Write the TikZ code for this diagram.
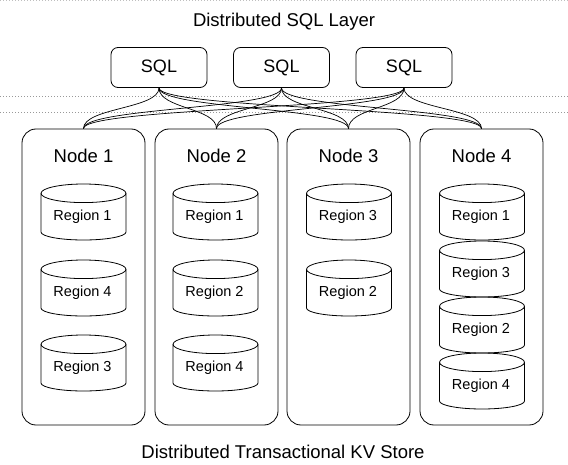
\documentclass[tikz,border=0pt]{standalone}
\usepackage{fontspec}
\setmainfont{Liberation Sans}
\tikzset{
  sqlbox/.style={draw, line width=0.8pt, rounded corners=7pt, minimum width=96pt, minimum height=40pt, inner sep=0pt, font=\fontsize{18}{20}\selectfont},
  nodebox/.style={draw, line width=0.8pt, rounded corners=14pt, minimum width=123pt, minimum height=296pt, inner sep=0pt},
  nodelabel/.style={font=\fontsize{18.5}{20}\selectfont, inner sep=0pt},
  titletext/.style={font=\fontsize{18.5}{20}\selectfont, inner sep=0pt},
  regtext/.style={font=\fontsize{14.5}{16}\selectfont, inner sep=0pt},
  cylline/.style={line width=0.8pt},
  link/.style={line width=0.7pt},
  layerline/.style={gray!80, line width=0.6pt, dash pattern=on 0.8pt off 2.2pt},
  toplayerline/.style={gray!50, line width=0.6pt, dash pattern=on 0.8pt off 2.2pt}
}
\newcommand\regcyl[4]{%
  \draw[cylline] (#2,#3-9.3) ellipse [x radius=42.5pt, y radius=9.3pt];
  \draw[cylline] (#2-42.5,#3-9.3) -- (#2-42.5,#3-48) arc[start angle=180, end angle=360, x radius=42.5pt, y radius=8pt] -- (#2+42.5,#3-9.3);
  \node[regtext] (#1) at (#2-1,#3-33) {#4};
}
\begin{document}
\begin{tikzpicture}[x=1pt, y=1pt]
\useasboundingbox (0,0) rectangle (568,464);
% layer lines
\coordinate (tl0) at (0,463.2);
\coordinate (tr0) at (568,463.2);
\draw[toplayerline] (tl0) -- (tr0);
\coordinate (tl1) at (0,368);
\coordinate (tr1) at (568,368);
\draw[layerline] (tl1) -- (tr1);
\coordinate (tl2) at (0,352);
\coordinate (tr2) at (568,352);
\draw[layerline] (tl2) -- (tr2);
% titles
\node[titletext] (t1) at (284,442) {Distributed SQL Layer};
\node[titletext] (t2) at (283,12) {Distributed Transactional KV Store};
% SQL boxes
\node[sqlbox] (s1) at (159,396.5) {SQL};
\node[sqlbox] (s2) at (281.5,396.5) {SQL};
\node[sqlbox] (s3) at (404,396.5) {SQL};
% node boxes
\node[nodebox] (n1) at (83.5,187) {};
\node[nodebox] (n2) at (216.5,187) {};
\node[nodebox] (n3) at (348.5,187) {};
\node[nodebox] (n4) at (481.5,187) {};
\node[nodelabel] (l1) at (83.5,308) {Node 1};
\node[nodelabel] (l2) at (216.5,308) {Node 2};
\node[nodelabel] (l3) at (348.5,308) {Node 3};
\node[nodelabel] (l4) at (481.5,308) {Node 4};
% links
\foreach \s in {1,2,3}{
  \foreach \n in {1,2,3,4}{
    \draw[link] (s\s.south) .. controls +(0,-21) and +(0,21) .. (n\n.north);
  }
}
% regions
\regcyl{r11}{83.5}{280}{Region 1}
\regcyl{r12}{83.5}{204}{Region 4}
\regcyl{r13}{83.5}{129}{Region 3}
\regcyl{r21}{215.5}{280}{Region 1}
\regcyl{r22}{215.5}{204}{Region 2}
\regcyl{r23}{215.5}{129}{Region 4}
\regcyl{r31}{349}{280}{Region 3}
\regcyl{r32}{349}{204}{Region 2}
\regcyl{r41}{482}{280}{Region 1}
\regcyl{r42}{482}{223}{Region 3}
\regcyl{r43}{482}{167}{Region 2}
\regcyl{r44}{482}{111}{Region 4}
\end{tikzpicture}
\end{document}
